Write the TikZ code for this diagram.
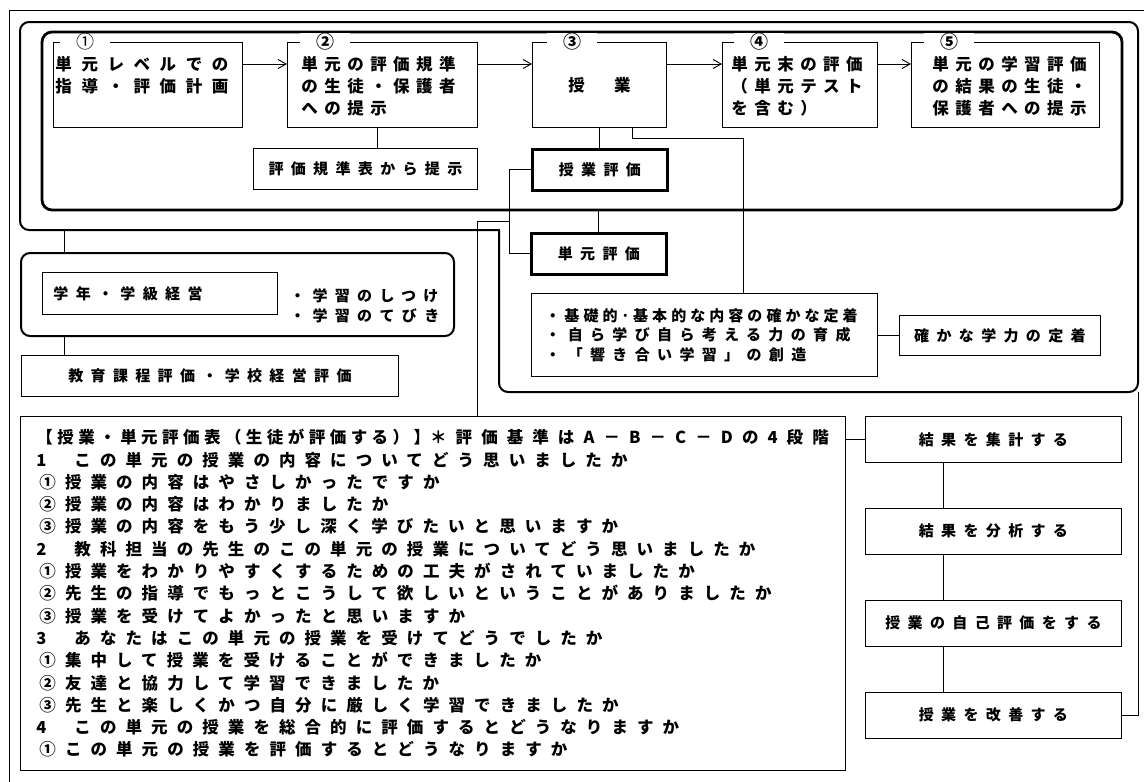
\documentclass[tikz,border=0pt]{standalone}
\usepackage{fontspec}
\setmainfont{Noto Sans CJK JP}
\newfontfamily\boxfont{Noto Sans CJK JP}[LetterSpace=39]
\newfontfamily\widefont{Noto Sans CJK JP}[LetterSpace=58]
\newfontfamily\midfont{Noto Sans CJK JP}[LetterSpace=49]
\newfontfamily\sheetfont{Noto Sans CJK JP}[LetterSpace=55]
\newfontfamily\tightfont{Noto Sans CJK JP}[LetterSpace=27]
\usetikzlibrary{arrows.meta,calc,positioning}

% top row cells: text hangs from the top edge
\newcommand{\cell}[2]{\parbox[c][85pt][t]{#1}{\rule{0pt}{28pt}#2}}

\tikzset{
  link/.style={line width=0.9pt},
  flow/.style={link,-{Straight Barb[length=8pt,width=9pt,line width=0.9pt]}},
  midline/.style={line width=2pt},
  heavyline/.style={line width=2.8pt},
  plainbox/.style={draw,line width=0.9pt,inner sep=0pt,anchor=north west,
    font=\fontsize{15pt}{20pt}\selectfont\bfseries\midfont},
  flowbox/.style={plainbox,minimum height=85pt,
    font=\fontsize{16.5pt}{22pt}\selectfont\bfseries\boxfont},
  evalbox/.style={plainbox,heavyline,minimum width=135pt,minimum height=41pt},
  stepbox/.style={plainbox,minimum width=256pt,minimum height=46pt},
  numlab/.style={fill=white,inner sep=0pt,minimum width=50pt,minimum height=6pt,
    font=\fontsize{18pt}{18pt}\selectfont\bfseries}
}

\begin{document}
\begin{tikzpicture}[x=1pt,y=-1pt]
  \useasboundingbox (0,0) rectangle (1144,782);

  % frames
  \draw[link] (1144,10) -- (9,10) -- (9,782);
  \draw[midline,line cap=rect,rounded corners=9pt]
    (499,230) -- (20,230) -- (20,22) -- (1138,22) -- (1138,392) -- (499,392) -- (499,230);
  \draw[heavyline,rounded corners=10pt] (42,32) rectangle (1122,210);

  % unit flow
  \node[flowbox,minimum width=189pt,inner xsep=2pt] (plan) at (53,42)
    {\cell{185pt}{\widefont 単元レベルでの\\指導・評価計画}};
  \node[flowbox,minimum width=190pt,inner xsep=14pt] (present) at (287,42)
    {\cell{162pt}{単元の評価規準\\の生徒・保護者\\への提示}};
  \node[flowbox,minimum width=134pt] (lesson) at (532,42) {授　業};
  \node[flowbox,minimum width=155pt,inner xsep=9pt] (unitend) at (722,42)
    {\cell{137pt}{単元末の評価\\（単元テスト\\を含む）}};
  \node[flowbox,minimum width=188pt,inner xsep=21pt] (result) at (911,42)
    {\cell{146pt}{単元の学習評価\\の結果の生徒・\\保護者への提示}};

  \foreach \a/\b in {plan/present,present/lesson,lesson/unitend,unitend/result}
    \draw[flow] ([yshift=-22pt]\a.north east) -- ([yshift=-22pt]\b.north west);
  \foreach \b/\n/\s in {plan/{\mdseries ①}/32,present/②/38,lesson/③/40,unitend/④/37,result/⑤/38}
    \node[numlab] (num-\b) at ([xshift=\s pt]\b.north west) {\n};

  % evaluation
  \node[plainbox,minimum width=224pt,minimum height=41pt] (criteria) at (253,148)
    {評価規準表から提示};
  \node[evalbox] (lessoneval) at (531,148) {授業評価};
  \node[evalbox] (uniteval) at (530,232) {単元評価};
  \node[plainbox,minimum width=346pt,minimum height=83pt,text width=318pt,
    inner xsep=14pt,align=left,font=\fontsize{15pt}{19.5pt}\selectfont\bfseries\midfont]
    (aims) at (531,293)
    {{\tightfont ・基礎的･基本的な内容の確かな定着}\\・自ら学び自ら考える力の育成\\・「響き合い学習」の創造};
  \node[plainbox,minimum width=201pt,minimum height=40pt] (ability) at (899,315)
    {確かな学力の定着};

  % school
  \node[draw,midline,rounded corners=9pt,minimum width=433pt,minimum height=83pt,
    anchor=north west] (gradeframe) at (20,252) {};
  \node[plainbox,minimum width=235pt,minimum height=42pt,text width=213pt,
    inner xsep=11pt,align=left] (grade) at (42,272) {学年・学級経営};
  \node[anchor=west,align=left,inner sep=0pt,
    font=\fontsize{15pt}{20pt}\selectfont\bfseries\midfont] (habits) at (290,306)
    {・学習のしつけ\\・学習のてびき};
  \node[plainbox,minimum width=377pt,minimum height=41pt] (curriculum) at (21,355)
    {教育課程評価・学校経営評価};

  % student sheet
  \node[plainbox,minimum width=825pt,minimum height=354pt,text width=793pt,
    inner xsep=16pt,align=left,font=\fontsize{16.5pt}{22.3pt}\selectfont\bfseries\sheetfont]
    (sheet) at (20,416) {%
    {\tightfont 【授業・単元評価表（生徒が評価する）】}＊評価基準はA－B－C－Dの4段階\\
    1\hspace{28pt}この単元の授業の内容についてどう思いましたか\\
    \hspace*{3pt}①授業の内容はやさしかったですか\\
    \hspace*{3pt}②授業の内容はわかりましたか\\
    \hspace*{3pt}③授業の内容をもう少し深く学びたいと思いますか\\
    2\hspace{28pt}教科担当の先生のこの単元の授業についてどう思いましたか\\
    \hspace*{3pt}①授業をわかりやすくするための工夫がされていましたか\\
    \hspace*{3pt}②先生の指導でもっとこうして欲しいということがありましたか\\
    \hspace*{3pt}③授業を受けてよかったと思いますか\\
    3\hspace{28pt}あなたはこの単元の授業を受けてどうでしたか\\
    \hspace*{3pt}①集中して授業を受けることができましたか\\
    \hspace*{3pt}②友達と協力して学習できましたか\\
    \hspace*{3pt}③先生と楽しくかつ自分に厳しく学習できましたか\\
    4\hspace{28pt}この単元の授業を総合的に評価するとどうなりますか\\
    \hspace*{3pt}①この単元の授業を評価するとどうなりますか};

  % improvement cycle
  \node[stepbox] (tally) at (865,416) {結果を集計する};
  \node[stepbox,below=45pt of tally] (analyze) {結果を分析する};
  \node[stepbox,below=45pt of analyze] (selfeval) {授業の自己評価をする};
  \node[stepbox,below=45pt of selfeval] (improve) {授業を改善する};

  % connectors
  \draw[link] ([xshift=-5pt]present.south) -- ([xshift=-5pt]present.south |- criteria.north);
  \draw[link] (lesson.south) -- (lesson.south |- lessoneval.north);
  \coordinate (aimtap) at (743,138);
  \draw[link] ([xshift=33pt]lesson.south) |- (aimtap) -- (aimtap |- aims.north);
  \draw[link] (lessoneval.west) -- ++(-22,0) |- (uniteval.west);
  \coordinate (frametap) at (598,210);
  \draw[link] (frametap) -- (frametap |- uniteval.north);
  \coordinate (sheettap) at (509,221);
  \coordinate (sheetdrop) at (477,221);
  \draw[link] (sheettap) -- (sheetdrop) -- (sheetdrop |- sheet.north);
  \draw[link] (aims.east) -- (aims.east -| ability.west);
  \coordinate (gradetap) at (64,230);
  \draw[link] (gradetap) -- (gradetap |- gradeframe.north);
  \draw[link] (gradetap |- gradeframe.south) -- (gradetap |- curriculum.north);
  \draw[link] (sheet.east |- tally.west) -- (tally.west);
  \foreach \a/\b in {tally/analyze,analyze/selfeval,selfeval/improve}
    \draw[link] ([xshift=-50pt]\a.south) -- ([xshift=-50pt]\b.north);
  \coordinate (loopcorner) at (1138,392);
  \draw[link] (improve.east) -- (improve.east -| loopcorner) -- (loopcorner);
\end{tikzpicture}
\end{document}
